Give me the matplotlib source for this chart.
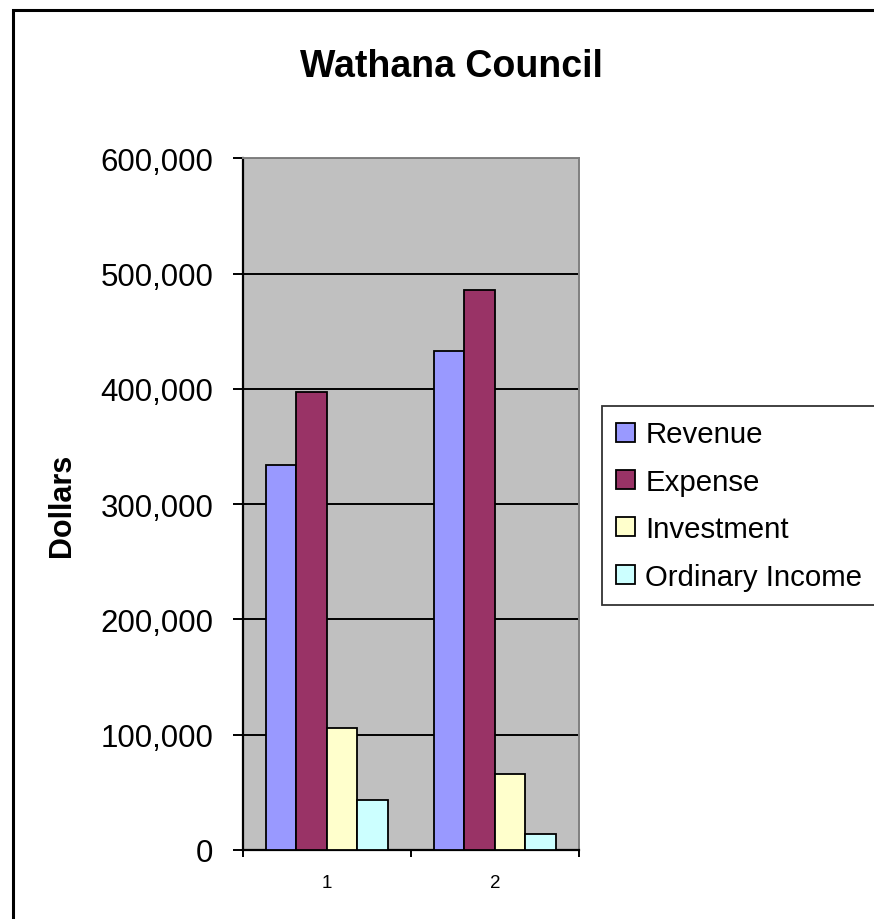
import matplotlib
matplotlib.use("Agg")
import matplotlib.pyplot as plt
import numpy as np
from matplotlib.patches import Rectangle
from matplotlib.ticker import FuncFormatter, FixedLocator

plt.rcParams["font.family"] = ["Liberation Sans", "DejaVu Sans"]

# Chart data
categories = ["1", "2"]
series_names = ["Revenue", "Expense", "Investment", "Ordinary Income"]
revenue = [334000, 433000]
expense = [397000, 486000]
investment = [106000, 66000]
ordinary_income = [43000, 13500]
colors = ["#9999FF", "#993366", "#FFFFCC", "#CCFFFF"]

W, H = 874, 920
fig = plt.figure(figsize=(W / 100, H / 100), dpi=100)

# Plot area in pixel coordinates
left, right, top, bottom = 242.7, 579, 159.3, 851
ax = fig.add_axes([left / W, 1 - bottom / H, (right - left) / W, (bottom - top) / H])
ax.set_facecolor("#C0C0C0")

values = [revenue, expense, investment, ordinary_income]
n = len(series_names)
slot = 1 / (n + 1.5)  # Excel gap width 150%
x = np.arange(len(categories))
for i, (name, vals) in enumerate(zip(series_names, values)):
    pos = x + (0.75 + i + 0.5) * slot
    ax.bar(pos, vals, width=slot, color=colors[i], edgecolor="black",
           linewidth=1.3, label=name, zorder=3)

ax.set_xlim(0, len(categories))
ax.set_ylim(0, 600000)
ax.set_yticks(np.arange(0, 600001, 100000))
ax.yaxis.set_major_formatter(FuncFormatter(lambda v, p: f"{int(v):,}"))
ax.grid(axis="y", color="black", linewidth=1.4, zorder=1)
ax.set_axisbelow(True)

# Category boundaries as ticks, labels in the middle
ax.xaxis.set_major_locator(FixedLocator(np.arange(len(categories) + 1)))
ax.xaxis.set_major_formatter(FuncFormatter(lambda v, p: ""))
ax.xaxis.set_minor_locator(FixedLocator(x + 0.5))
ax.set_xticklabels(categories, minor=True)
ax.tick_params(axis="x", which="major", direction="out", length=5, width=1.4)
ax.tick_params(axis="x", which="minor", length=0, pad=17, labelsize=13.5)
ax.tick_params(axis="y", direction="out", length=7.5, width=1.4, pad=13.5, labelsize=22.5)

for s in ["left", "bottom"]:
    ax.spines[s].set_color("black")
    ax.spines[s].set_linewidth(1.6)
for s in ["top", "right"]:
    ax.spines[s].set_color("#808080")
    ax.spines[s].set_linewidth(1.4)

ax.set_ylabel("Dollars", fontsize=22, fontweight="bold", labelpad=17)
fig.text(451 / W, 1 - 67 / H, "Wathana Council", ha="center", va="center",
         fontsize=27, fontweight="bold")

leg = fig.legend(loc="upper left", bbox_to_anchor=(601.7 / W, 1 - 406.7 / H),
                 fontsize=21.2, frameon=True, fancybox=False, shadow=False,
                 borderaxespad=0, borderpad=0.5, labelspacing=0.66,
                 handlelength=0.62, handleheight=0.62, handletextpad=0.36)
leg.get_frame().set_edgecolor("black")
leg.get_frame().set_linewidth(1.3)

# Outer chart border (only left and top edges fall inside the image)
fig.patches.append(Rectangle((13 / W, -0.1), 2, 1 - 11 / H + 0.1,
                             transform=fig.transFigure, fill=False,
                             edgecolor="black", linewidth=2.2))

fig.savefig("out.png", dpi=100)
